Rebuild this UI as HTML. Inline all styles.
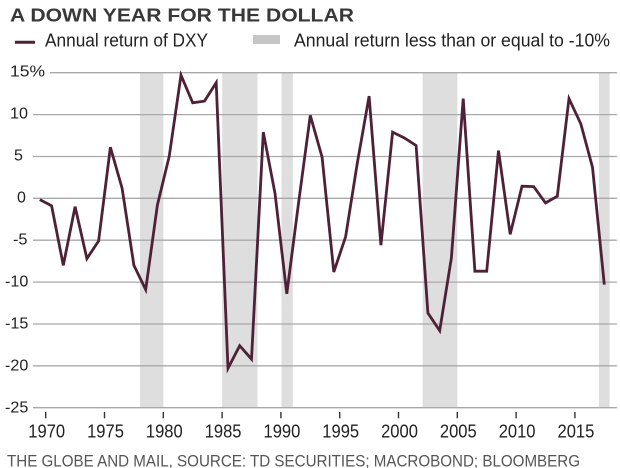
<!DOCTYPE html>
<html>
<head>
<meta charset="utf-8">
<style>
  html, body { margin: 0; padding: 0; background: #ffffff; }
  svg { display: block; }
  text { font-family: "Liberation Sans", sans-serif; }
</style>
</head>
<body>
<svg width="620" height="468" viewBox="0 0 620 468" xmlns="http://www.w3.org/2000/svg">
  <rect x="0" y="0" width="620" height="468" fill="#ffffff"/>

  <!-- Title -->
  <text x="10" y="21.7" font-size="18.5" font-weight="bold" fill="#383838" textLength="344" lengthAdjust="spacingAndGlyphs">A DOWN YEAR FOR THE DOLLAR</text>

  <!-- Legend -->
  <line x1="15" y1="42.3" x2="35" y2="42.3" stroke="#4f2136" stroke-width="3"/>
  <text x="45" y="46.7" font-size="18" fill="#222" textLength="163" lengthAdjust="spacingAndGlyphs">Annual return of DXY</text>
  <rect x="253" y="35" width="27" height="9" fill="#c6c6c6"/>
  <text x="294" y="46.7" font-size="18" fill="#222" textLength="316" lengthAdjust="spacingAndGlyphs">Annual return less than or equal to -10%</text>

  <!-- Shaded bands -->
  <g fill="#dedede">
    <rect x="140" y="72.7" width="23.4" height="335"/>
    <rect x="222.2" y="72.7" width="35.3" height="335"/>
    <rect x="281.5" y="72.7" width="11.3" height="335"/>
    <rect x="422.6" y="72.7" width="34.8" height="335"/>
    <rect x="599" y="72.7" width="10.6" height="335"/>
  </g>

  <!-- Gridlines -->
  <g stroke="#a9a9a9" stroke-width="1.3">
    <line x1="50" y1="72.7" x2="617" y2="72.7"/>
    <line x1="33" y1="114.6" x2="617" y2="114.6"/>
    <line x1="33" y1="156.5" x2="617" y2="156.5"/>
    <line x1="33" y1="198.3" x2="617" y2="198.3"/>
    <line x1="33" y1="240.2" x2="617" y2="240.2"/>
    <line x1="33" y1="282.1" x2="617" y2="282.1"/>
    <line x1="33" y1="324.0" x2="617" y2="324.0"/>
    <line x1="33" y1="365.8" x2="617" y2="365.8"/>
    <line x1="33" y1="407.7" x2="617" y2="407.7"/>
  </g>

  <!-- Y labels -->
  <g font-size="16" fill="#222">
    <text x="10" y="76.4" textLength="35" lengthAdjust="spacingAndGlyphs">15%</text>
    <text x="10" y="118.4" textLength="18" lengthAdjust="spacingAndGlyphs">10</text>
    <text x="14" y="160.5">5</text>
    <text x="17" y="202.7">0</text>
    <text x="13" y="244.6" textLength="14.5" lengthAdjust="spacingAndGlyphs">-5</text>
    <text x="5" y="286.6" textLength="23.3" lengthAdjust="spacingAndGlyphs">-10</text>
    <text x="5" y="328.6" textLength="23.3" lengthAdjust="spacingAndGlyphs">-15</text>
    <text x="5" y="370.4" textLength="23.3" lengthAdjust="spacingAndGlyphs">-20</text>
    <text x="5" y="412.4" textLength="23.3" lengthAdjust="spacingAndGlyphs">-25</text>
  </g>

  <!-- X ticks -->
  <g stroke="#333" stroke-width="1.4">
    <line x1="45.7" y1="412" x2="45.7" y2="418.3"/>
    <line x1="104.5" y1="412" x2="104.5" y2="418.3"/>
    <line x1="163.3" y1="412" x2="163.3" y2="418.3"/>
    <line x1="222.1" y1="412" x2="222.1" y2="418.3"/>
    <line x1="280.9" y1="412" x2="280.9" y2="418.3"/>
    <line x1="339.7" y1="412" x2="339.7" y2="418.3"/>
    <line x1="398.5" y1="412" x2="398.5" y2="418.3"/>
    <line x1="457.3" y1="412" x2="457.3" y2="418.3"/>
    <line x1="516.1" y1="412" x2="516.1" y2="418.3"/>
    <line x1="574.9" y1="412" x2="574.9" y2="418.3"/>
  </g>

  <!-- X labels -->
  <g font-size="18" fill="#222">
    <text x="28.3" y="437.7" textLength="36.8" lengthAdjust="spacingAndGlyphs">1970</text>
    <text x="87.1" y="437.7" textLength="36.8" lengthAdjust="spacingAndGlyphs">1975</text>
    <text x="145.9" y="437.7" textLength="36.8" lengthAdjust="spacingAndGlyphs">1980</text>
    <text x="204.7" y="437.7" textLength="36.8" lengthAdjust="spacingAndGlyphs">1985</text>
    <text x="263.5" y="437.7" textLength="36.8" lengthAdjust="spacingAndGlyphs">1990</text>
    <text x="322.3" y="437.7" textLength="36.8" lengthAdjust="spacingAndGlyphs">1995</text>
    <text x="381.1" y="437.7" textLength="36.8" lengthAdjust="spacingAndGlyphs">2000</text>
    <text x="439.9" y="437.7" textLength="36.8" lengthAdjust="spacingAndGlyphs">2005</text>
    <text x="498.7" y="437.7" textLength="36.8" lengthAdjust="spacingAndGlyphs">2010</text>
    <text x="557.5" y="437.7" textLength="36.8" lengthAdjust="spacingAndGlyphs">2015</text>
  </g>

  <!-- Series -->
  <polyline fill="none" stroke="#4f2136" stroke-width="2.8" stroke-linejoin="miter" stroke-miterlimit="4"
    points="39.8,199.6 51.6,205.8 63.3,265.3 75.1,206.7 86.9,258.6 98.6,241.0 110.4,147.2 122.1,188.3 133.9,265.3 145.7,289.6 157.4,205.0 169.2,156.4 181.0,75.2 192.7,102.8 204.5,101.1 216.2,82.7 228.0,368.3 239.7,345.7 251.5,359.1 263.3,132.1 275.0,193.3 286.8,293.8 298.5,203.3 310.3,115.4 322.1,157.3 333.8,272.0 345.6,236.8 357.3,163.1 369.1,96.1 380.9,245.2 392.6,132.1 404.4,138.0 416.1,145.5 427.9,313.0 439.7,330.6 451.4,257.8 463.2,98.6 474.9,271.2 486.7,271.2 498.5,150.6 510.2,234.3 522.0,186.2 533.7,186.6 545.5,202.9 557.3,196.2 569.0,98.6 580.8,123.8 592.5,167.3 604.3,284.6"/>

  <!-- Footer -->
  <text x="7" y="466.6" font-size="17" fill="#555" textLength="573" lengthAdjust="spacingAndGlyphs">THE GLOBE AND MAIL, SOURCE: TD SECURITIES; MACROBOND; BLOOMBERG</text>
</svg>
</body>
</html>
